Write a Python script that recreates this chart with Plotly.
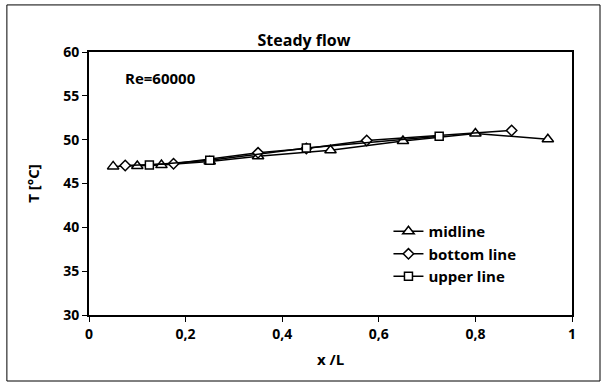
import plotly.graph_objects as go

# Data
mid_x = [0.05, 0.10, 0.15, 0.25, 0.35, 0.50, 0.65, 0.80, 0.95]
mid_y = [46.95, 47.0, 47.1, 47.5, 48.1, 48.8, 49.85, 50.7, 50.05]

bot_x = [0.075, 0.175, 0.35, 0.45, 0.575, 0.875]
bot_y = [47.05, 47.25, 48.5, 49.0, 49.9, 51.05]

up_x = [0.125, 0.25, 0.45, 0.725]
up_y = [47.1, 47.65, 49.05, 50.4]

x_ticks = [0, 0.2, 0.4, 0.6, 0.8, 1]
x_tick_text = ["0", "0,2", "0,4", "0,6", "0,8", "1"]
y_ticks = [30, 35, 40, 45, 50, 55, 60]

FONT = "Open Sans"

fig = go.Figure()

def add(xs, ys, name, symbol, size):
    fig.add_trace(go.Scatter(
        x=xs, y=ys, name=name, mode="lines+markers",
        line=dict(color="black", width=1.5),
        marker=dict(symbol=symbol, size=size, color="white",
                    line=dict(color="black", width=1.5)),
    ))

add(mid_x, mid_y, "midline", "triangle-up", 10)
add(bot_x, bot_y, "bottom line", "diamond", 8)
add(up_x, up_y, "upper line", "square", 8)

fig.update_layout(
    width=608, height=387,
    margin=dict(l=89, r=36, t=52, b=72),
    paper_bgcolor="white", plot_bgcolor="white",
    font=dict(family=FONT, size=14, color="black"),
    title=dict(text="<b>Steady flow</b>", x=0.5, xanchor="center",
               y=1 - 40 / 387, yanchor="middle",
               font=dict(family=FONT, size=16, color="black")),
    showlegend=True,
    legend=dict(x=0.62, y=0.38, xanchor="left", yanchor="top",
                bgcolor="rgba(0,0,0,0)", font=dict(family=FONT, size=15, color="black", weight="bold"),
                tracegroupgap=0, itemwidth=30),
    xaxis=dict(range=[0, 1], tickvals=x_ticks, ticktext=x_tick_text,
               showgrid=False, zeroline=False,
               showline=True, linecolor="black", linewidth=2, mirror=True,
               ticks="outside", ticklen=5, tickcolor="black", tickwidth=1,
               tickfont=dict(family=FONT, size=14, color="black", weight="bold"),
               title=dict(text="<b>x /L</b>", font=dict(family=FONT, size=15, color="black"), standoff=13)),
    yaxis=dict(range=[30, 60], tickvals=y_ticks,
               showgrid=False, zeroline=False,
               showline=True, linecolor="black", linewidth=2, mirror=True,
               ticks="outside", ticklen=5, tickcolor="black", tickwidth=1,
               tickfont=dict(family=FONT, size=14, color="black", weight="bold"),
               title=dict(text="<b>T [°C]</b>", font=dict(family=FONT, size=15, color="black"), standoff=20)),
)

fig.add_annotation(text="<b>Re=60000</b>", xref="x", yref="y", x=0.07, y=57,
                   xanchor="left", yanchor="middle", showarrow=False,
                   font=dict(family=FONT, size=15, color="black"))

# outer border of the chart
fig.add_shape(type="rect", xref="paper", yref="paper",
              x0=-0.17, x1=1.058, y0=-0.251, y1=1.179,
              line=dict(color="black", width=1), fillcolor="rgba(0,0,0,0)", layer="below")

fig.write_html("out.html")
